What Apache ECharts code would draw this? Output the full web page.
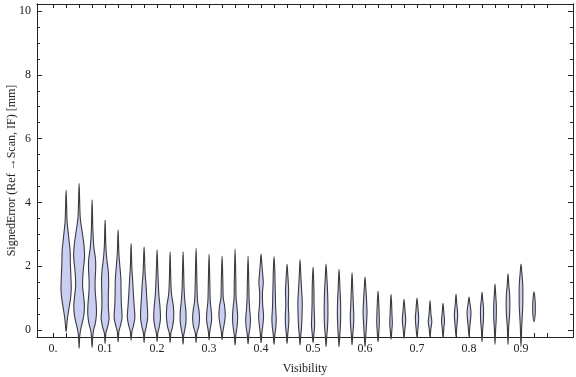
<!DOCTYPE html>
<html>
<head>
    <meta charset="utf-8">
    <script src="https://cdn.jsdelivr.net/npm/echarts@6/dist/echarts.min.js"></script>
</head>
<body style="margin:0">
<div id="main" style="width: 576px;height:377px;"></div>
<script type="text/javascript">
    // visibility bins (violin centres)
    var visibility = [0.025, 0.05, 0.075, 0.1, 0.125, 0.15, 0.175, 0.2, 0.225, 0.25,
        0.275, 0.3, 0.325, 0.35, 0.375, 0.4, 0.425, 0.45, 0.475, 0.5,
        0.525, 0.55, 0.575, 0.6, 0.625, 0.65, 0.675, 0.7, 0.725, 0.75,
        0.775, 0.8, 0.825, 0.85, 0.875, 0.9, 0.925];

    // density profile of each violin: [signed error, density]
    var violins = [
        [[-0.05,0],[0.2,0.8],[0.4,1.5],[0.7,3.0],[1.0,4.5],[1.3,5.2],[1.7,4.8],[2.1,4.3],[2.5,4.0],[2.8,3.0],[3.1,2.0],[3.4,1.0],[3.8,0.6],[4.39,0]],
        [[-0.57,0],[-0.2,0.6],[0.0,1.5],[0.2,3.0],[0.45,4.7],[0.75,5.4],[1.05,4.6],[1.4,3.5],[1.8,4.0],[2.3,5.5],[2.7,4.8],[3.1,3.0],[3.5,1.2],[4.0,0.6],[4.6,0]],
        [[-0.55,0],[-0.2,0.7],[0.0,1.5],[0.2,3.2],[0.5,4.4],[0.8,4.2],[1.2,3.2],[1.5,3.0],[1.9,3.6],[2.2,3.5],[2.6,1.8],[3.1,0.8],[4.08,0]],
        [[-0.42,0],[-0.1,0.8],[0.1,2.5],[0.35,4.0],[0.7,3.3],[1.1,3.3],[1.5,3.6],[1.85,3.2],[2.2,1.8],[2.6,0.8],[3.45,0]],
        [[-0.37,0],[-0.05,0.8],[0.15,2.5],[0.4,4.0],[0.8,3.3],[1.2,3.0],[1.6,2.8],[2.0,1.8],[2.4,0.8],[3.14,0]],
        [[-0.32,0],[-0.05,0.8],[0.15,2.5],[0.4,3.8],[0.8,3.0],[1.2,2.2],[1.6,1.5],[2.0,0.7],[2.72,0]],
        [[-0.39,0],[-0.1,0.7],[0.1,2.2],[0.4,3.6],[0.75,3.2],[1.1,2.5],[1.4,2.0],[1.8,1.0],[2.61,0]],
        [[-0.37,0],[-0.1,0.7],[0.1,2.2],[0.35,3.4],[0.7,3.0],[1.1,1.8],[1.5,1.2],[1.9,0.7],[2.51,0]],
        [[-0.39,0],[-0.1,0.8],[0.1,2.5],[0.4,3.7],[0.75,3.3],[1.1,1.5],[1.5,0.8],[2.45,0]],
        [[-0.44,0],[-0.15,0.7],[0.05,2.0],[0.3,3.0],[0.6,2.8],[0.9,1.8],[1.3,1.0],[1.8,0.6],[2.45,0]],
        [[-0.39,0],[-0.1,0.8],[0.1,2.6],[0.35,3.5],[0.6,3.0],[0.9,1.5],[1.4,0.9],[2.56,0]],
        [[-0.31,0],[-0.05,0.7],[0.15,1.8],[0.35,2.6],[0.6,2.2],[0.9,1.2],[1.4,0.8],[2.37,0]],
        [[-0.3,0],[-0.05,0.8],[0.15,2.0],[0.45,3.2],[0.75,2.6],[1.0,1.2],[1.5,0.8],[2.32,0]],
        [[-0.47,0],[-0.15,0.8],[0.1,2.0],[0.4,2.6],[0.7,2.0],[1.0,1.0],[1.5,0.8],[2.54,0]],
        [[-0.44,0],[-0.15,0.8],[0.1,2.0],[0.35,2.4],[0.65,1.6],[1.0,1.0],[1.5,0.7],[2.32,0]],
        [[-0.4,0],[-0.1,0.8],[0.15,1.8],[0.45,2.5],[0.8,1.6],[1.15,1.4],[1.5,2.2],[1.8,1.5],[2.1,0.7],[2.37,0]],
        [[-0.45,0],[-0.15,0.8],[0.1,1.8],[0.35,2.2],[0.7,1.6],[1.1,1.3],[1.5,1.0],[1.9,0.7],[2.3,0]],
        [[-0.42,0],[-0.1,0.8],[0.15,1.6],[0.4,1.8],[0.8,1.3],[1.2,1.6],[1.5,1.2],[1.8,0.6],[2.06,0]],
        [[-0.47,0],[-0.15,0.8],[0.1,1.5],[0.45,2.0],[0.9,2.2],[1.3,1.5],[1.7,0.8],[2.2,0]],
        [[-0.4,0],[-0.1,0.9],[0.15,1.6],[0.4,1.4],[0.8,1.0],[1.2,0.9],[1.6,0.6],[1.97,0]],
        [[-0.52,0],[-0.2,0.7],[0.1,1.5],[0.5,1.9],[0.9,1.8],[1.3,1.4],[1.7,0.7],[2.07,0]],
        [[-0.52,0],[-0.2,0.7],[0.1,1.3],[0.5,1.7],[0.9,1.5],[1.3,0.9],[1.9,0]],
        [[-0.47,0],[-0.15,0.7],[0.1,1.4],[0.4,1.8],[0.8,1.3],[1.2,0.8],[1.8,0]],
        [[-0.52,0],[-0.2,0.7],[0.15,1.4],[0.55,2.0],[0.95,1.5],[1.3,0.8],[1.66,0]],
        [[-0.37,0],[-0.1,0.7],[0.2,1.3],[0.45,1.2],[0.8,0.8],[1.22,0]],
        [[-0.29,0],[-0.05,0.7],[0.2,1.3],[0.45,1.0],[0.8,0.6],[1.12,0]],
        [[-0.26,0],[0.0,0.8],[0.3,1.7],[0.6,1.0],[0.96,0]],
        [[-0.23,0],[0.0,0.8],[0.35,1.7],[0.65,1.0],[1.0,0]],
        [[-0.21,0],[0.05,0.9],[0.26,1.8],[0.5,0.9],[0.92,0]],
        [[-0.23,0],[0.05,0.8],[0.3,1.5],[0.55,0.8],[0.84,0]],
        [[-0.21,0],[0.1,0.8],[0.47,1.7],[0.8,0.8],[1.13,0]],
        [[-0.21,0],[0.1,0.8],[0.55,2.0],[0.85,0.8],[1.03,0]],
        [[-0.37,0],[0.0,0.6],[0.3,1.4],[0.7,1.5],[0.95,0.7],[1.18,0]],
        [[-0.45,0],[0.0,0.6],[0.4,1.3],[0.8,1.3],[1.1,0.7],[1.44,0]],
        [[-0.45,0],[0.1,0.7],[0.6,1.8],[1.1,1.7],[1.4,0.8],[1.76,0]],
        [[-0.52,0],[0.1,0.7],[0.8,1.8],[1.4,1.8],[1.8,0.8],[2.07,0]],
        [[0.26,0],[0.5,1.2],[0.8,1.3],[1.0,0.9],[1.2,0]]
    ];

    var xTicks = [0, 0.025, 0.05, 0.075, 0.1, 0.125, 0.15, 0.175, 0.2, 0.225, 0.25, 0.275,
        0.3, 0.325, 0.35, 0.375, 0.4, 0.425, 0.45, 0.475, 0.5, 0.525, 0.55, 0.575,
        0.6, 0.625, 0.65, 0.675, 0.7, 0.725, 0.75, 0.775, 0.8, 0.825, 0.85, 0.875,
        0.9, 0.925, 0.95];
    var xLabels = [0, 0.1, 0.2, 0.3, 0.4, 0.5, 0.6, 0.7, 0.8, 0.9];
    var yLabels = [0, 2, 4, 6, 8, 10];
    var yMinorTicks = [0, 0.5, 1, 1.5, 2, 2.5, 3, 3.5, 4, 4.5, 5, 5.5, 6, 6.5, 7, 7.5,
        8, 8.5, 9, 9.5, 10];

    var WIDTH_SCALE = 0.0019; // x units per density unit
    var FONT = '"Liberation Serif", "DejaVu Serif", serif';
    var INK = '#222';

    var myChart = echarts.init(document.getElementById('main'));

    function frameAxis(extra) {
        var base = {
            type: 'value',
            gridIndex: 0,
            axisLine: {show: true, onZero: false, lineStyle: {color: INK, width: 1}},
            splitLine: {show: false},
            axisLabel: {show: false}
        };
        return Object.assign(base, extra);
    }

    function renderViolin(params, api) {
        var x = api.value(0);
        var prof = violins[api.value(1)];
        var pts = [];
        for (var i = 0; i < prof.length; i++) {
            pts.push(api.coord([x + prof[i][1] * WIDTH_SCALE, prof[i][0]]));
        }
        for (var j = prof.length - 2; j > 0; j--) {
            pts.push(api.coord([x - prof[j][1] * WIDTH_SCALE, prof[j][0]]));
        }
        return {
            type: 'polygon',
            shape: {points: pts, smooth: 0.35},
            style: {fill: '#c9cef2', stroke: '#3c3c3c', lineWidth: 1.1}
        };
    }

    option = {
        animation: false,
        grid: {left: 37, right: 3, top: 4, bottom: 40, containLabel: false, outerBoundsMode: 'none'},
        xAxis: [
            frameAxis({
                position: 'bottom', min: -0.031, max: 1.0,
                axisTick: {inside: true, length: 4, customValues: xTicks, lineStyle: {color: INK}},
                axisLabel: {
                    show: true, customValues: xLabels, margin: 6,
                    fontFamily: FONT, fontSize: 12, color: INK,
                    formatter: function (v) { return v === 0 ? '0.' : String(v); }
                },
                name: 'Visibility', nameLocation: 'middle', nameGap: 26, nameMoveOverlap: false,
                nameTextStyle: {fontFamily: FONT, fontSize: 12, color: INK}
            }),
            frameAxis({
                position: 'top', min: -0.031, max: 1.0,
                axisTick: {inside: true, length: 4, customValues: xTicks, lineStyle: {color: INK}}
            })
        ],
        yAxis: [
            frameAxis({
                position: 'left', min: -0.22, max: 10.22,
                axisTick: {inside: true, length: 5, customValues: yLabels, lineStyle: {color: INK}},
                axisLabel: {
                    show: true, customValues: yLabels, margin: 6,
                    fontFamily: FONT, fontSize: 12, color: INK
                },
                name: 'SignedError (Ref →Scan, IF) [mm]', nameLocation: 'middle', nameGap: 19,
                nameMoveOverlap: false,
                nameTextStyle: {fontFamily: FONT, fontSize: 12, color: INK}
            }),
            frameAxis({
                position: 'left', min: -0.22, max: 10.22,
                axisTick: {inside: true, length: 3, customValues: yMinorTicks, lineStyle: {color: INK}}
            }),
            frameAxis({
                position: 'right', min: -0.22, max: 10.22,
                axisTick: {inside: true, length: 5, customValues: yLabels, lineStyle: {color: INK}}
            }),
            frameAxis({
                position: 'right', min: -0.22, max: 10.22,
                axisTick: {inside: true, length: 3, customValues: yMinorTicks, lineStyle: {color: INK}}
            })
        ],
        series: [{
            type: 'custom',
            xAxisIndex: 0,
            yAxisIndex: 0,
            clip: false,
            renderItem: renderViolin,
            encode: {x: 0},
            data: visibility.map(function (v, i) { return [v, i]; })
        }]
    };

    myChart.setOption(option);
</script>
</body>
</html>
